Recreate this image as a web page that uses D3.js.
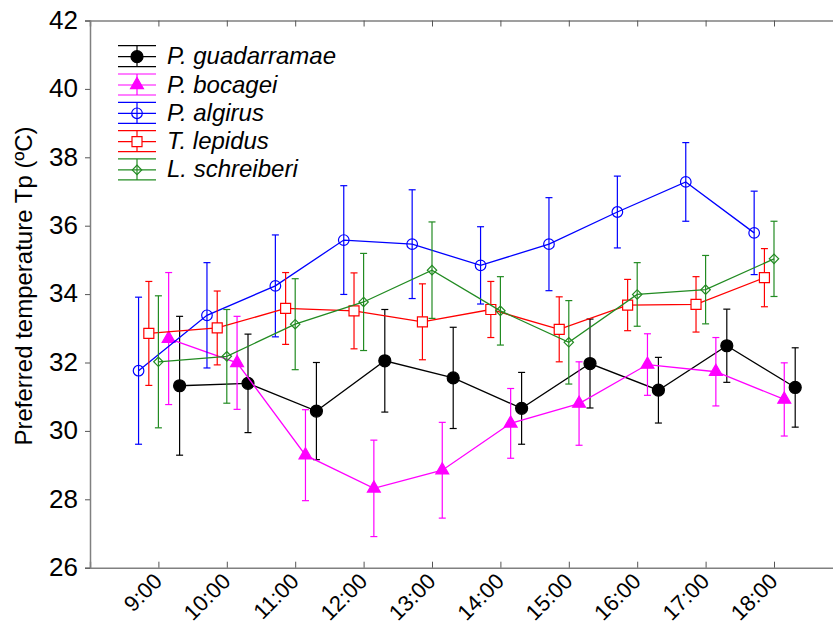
<!DOCTYPE html>
<html>
<head>
<meta charset="utf-8">
<script src="https://cdnjs.cloudflare.com/ajax/libs/d3/7.8.5/d3.min.js"></script>
<style>
  body { margin: 0; background: #fff; }
  svg { display: block; font-family: "Liberation Sans", Arial, sans-serif; }
</style>
</head>
<body>
<svg width="833" height="626"></svg>
<script>
// time of day categories
var hours = ["9:00", "10:00", "11:00", "12:00", "13:00", "14:00", "15:00", "16:00", "17:00", "18:00"];
var yTicks = [26, 28, 30, 32, 34, 36, 38, 40, 42];

// mean preferred temperature and error (+/-) per species
var guadarramaeMean = [31.32, 31.39, 30.58, 32.05, 31.55, 30.66, 31.97, 31.19, 32.49, 31.27];
var guadarramaeErr  = [2.03, 1.44, 1.42, 1.50, 1.48, 1.05, 1.30, 0.96, 1.07, 1.16];
var bocageiMean     = [32.70, 31.99, 29.29, 28.32, 28.85, 30.22, 30.80, 31.94, 31.73, 30.92];
var bocageiErr      = [1.93, 1.36, 1.33, 1.41, 1.40, 1.02, 1.22, 0.90, 1.00, 1.07];
var algirusMean     = [31.76, 33.38, 34.24, 35.58, 35.46, 34.84, 35.46, 36.40, 37.28, 35.79];
var algirusErr      = [2.15, 1.54, 1.49, 1.59, 1.59, 1.13, 1.36, 1.05, 1.15, 1.22];
var lepidusMean     = [32.85, 33.01, 33.58, 33.51, 33.19, 33.55, 32.97, 33.68, 33.70, 34.48];
var lepidusErr      = [1.52, 1.08, 1.05, 1.11, 1.11, 0.82, 0.95, 0.75, 0.81, 0.85];
var schreiberiMean  = [32.02, 32.18, 33.12, 33.77, 34.70, 33.51, 32.59, 33.99, 34.13, 35.03];
var schreiberiErr   = [1.93, 1.37, 1.33, 1.42, 1.41, 1.00, 1.22, 0.93, 1.00, 1.10];

var series = [
  { name: "P. guadarramae", mean: guadarramaeMean, err: guadarramaeErr, color: "#000000", shift: 0.31,  symbol: "circle",   filled: true },
  { name: "P. bocagei",     mean: bocageiMean,     err: bocageiErr,     color: "#ff00ff", shift: 0.15,  symbol: "triangle", filled: true },
  { name: "P. algirus",     mean: algirusMean,     err: algirusErr,     color: "#0000ff", shift: -0.29, symbol: "circle",   filled: false },
  { name: "T. lepidus",     mean: lepidusMean,     err: lepidusErr,     color: "#ff0000", shift: -0.14, symbol: "square",   filled: false },
  { name: "L. schreiberi",  mean: schreiberiMean,  err: schreiberiErr,  color: "#228b22", shift: 0,     symbol: "diamond",  filled: false }
];

var svg = d3.select("svg");
var plotLeft = 90, plotTop = 20.5, plotBottom = 567.7;

// category index -1 .. 10, the right end runs off the picture
var x = d3.scaleLinear().domain([-1, 10]).range([plotLeft, plotLeft + 11 * 68.4]);
var y = d3.scaleLinear().domain([26, 42]).range([plotBottom, plotTop]);

var axisColor = "#808080";

// axes
var gx = svg.append("g")
  .attr("transform", "translate(0," + plotBottom + ")")
  .call(d3.axisBottom(x).tickValues(d3.range(hours.length)).tickSize(-6).tickFormat(""));
var gxTop = svg.append("g")
  .attr("transform", "translate(0," + plotTop + ")")
  .call(d3.axisTop(x).tickValues(d3.range(hours.length)).tickSize(-6).tickFormat(""));
var gy = svg.append("g")
  .attr("transform", "translate(" + plotLeft + ",0)")
  .call(d3.axisLeft(y).tickValues(yTicks).tickSize(5).tickPadding(7));

[gx, gxTop, gy].forEach(function(g) {
  g.select(".domain").attr("stroke", axisColor).attr("stroke-width", 1.5);
  g.selectAll(".tick line").attr("stroke", "#555").attr("stroke-width", 1);
});
gy.selectAll(".tick text")
  .attr("fill", "#000")
  .style("font-size", "26px")
  .attr("dy", "0.3em");

// rotated hour labels
svg.append("g").selectAll("text")
  .data(hours)
  .enter().append("text")
  .attr("transform", function(d, i) { return "translate(" + (x(i) + 5) + "," + (plotBottom + 15) + ") rotate(-45)"; })
  .attr("text-anchor", "end")
  .style("font-size", "22px")
  .text(function(d) { return d; });

// y title
svg.append("text")
  .attr("transform", "translate(32,286) rotate(-90)")
  .attr("text-anchor", "middle")
  .style("font-size", "24px")
  .text("Preferred temperature Tp (ºC)");

function symbolPath(s) {
  if (s === "triangle") return d3.symbol().type(d3.symbolTriangle).size(72)();
  if (s === "square") return d3.symbol().type(d3.symbolSquare).size(100)();
  return d3.symbol().type(d3.symbolSquare).size(44)();
}

function drawMarker(g, s, cx, cy) {
  var fill = s.filled ? s.color : (s.symbol === "square" ? "#fff" : "none");
  if (s.symbol === "circle") {
    g.append("circle")
      .attr("cx", cx).attr("cy", cy).attr("r", s.filled ? 6 : 5.3)
      .attr("fill", fill).attr("stroke", s.color).attr("stroke-width", 1.2);
  } else {
    g.append("path")
      .attr("d", symbolPath(s.symbol))
      .attr("transform", "translate(" + cx + "," + cy + ")" + (s.symbol === "diamond" ? " rotate(45)" : ""))
      .attr("fill", fill).attr("stroke", s.color).attr("stroke-width", 1.2);
  }
}

var line = d3.line()
  .x(function(d) { return x(d.i + d.shift); })
  .y(function(d) { return y(d.v); });

var capW = 3.5;

series.forEach(function(s) {
  var pts = s.mean.map(function(v, i) { return { i: i, v: v, e: s.err[i], shift: s.shift }; });
  var g = svg.append("g");

  g.append("path")
    .datum(pts)
    .attr("d", line)
    .attr("fill", "none")
    .attr("stroke", s.color)
    .attr("stroke-width", 1.3);

  pts.forEach(function(p) {
    var cx = x(p.i + p.shift);
    var y1 = y(p.v + p.e), y2 = y(p.v - p.e);
    g.append("line").attr("x1", cx).attr("x2", cx).attr("y1", y1).attr("y2", y2)
      .attr("stroke", s.color).attr("stroke-width", 1.2);
    [y1, y2].forEach(function(yy) {
      g.append("line").attr("x1", cx - capW).attr("x2", cx + capW).attr("y1", yy).attr("y2", yy)
        .attr("stroke", s.color).attr("stroke-width", 1.2);
    });
    drawMarker(g, s, cx, y(p.v));
  });
});

// legend
var legend = svg.append("g");
series.forEach(function(s, k) {
  var cy = 56.7 + k * 28.3;
  var lg = legend.append("g");
  [cy - 11, cy, cy + 10].forEach(function(yy) {
    lg.append("line").attr("x1", 118).attr("x2", 156).attr("y1", yy).attr("y2", yy)
      .attr("stroke", s.color).attr("stroke-width", 1.2);
  });
  lg.append("line").attr("x1", 137).attr("x2", 137).attr("y1", cy - 11).attr("y2", cy + 10)
    .attr("stroke", s.color).attr("stroke-width", 1.2);
  drawMarker(lg, s, 137, cy);
  lg.append("text")
    .attr("x", 167).attr("y", cy + 7.5)
    .style("font-size", "24px")
    .style("font-style", "italic")
    .text(s.name);
});
</script>
</body>
</html>
